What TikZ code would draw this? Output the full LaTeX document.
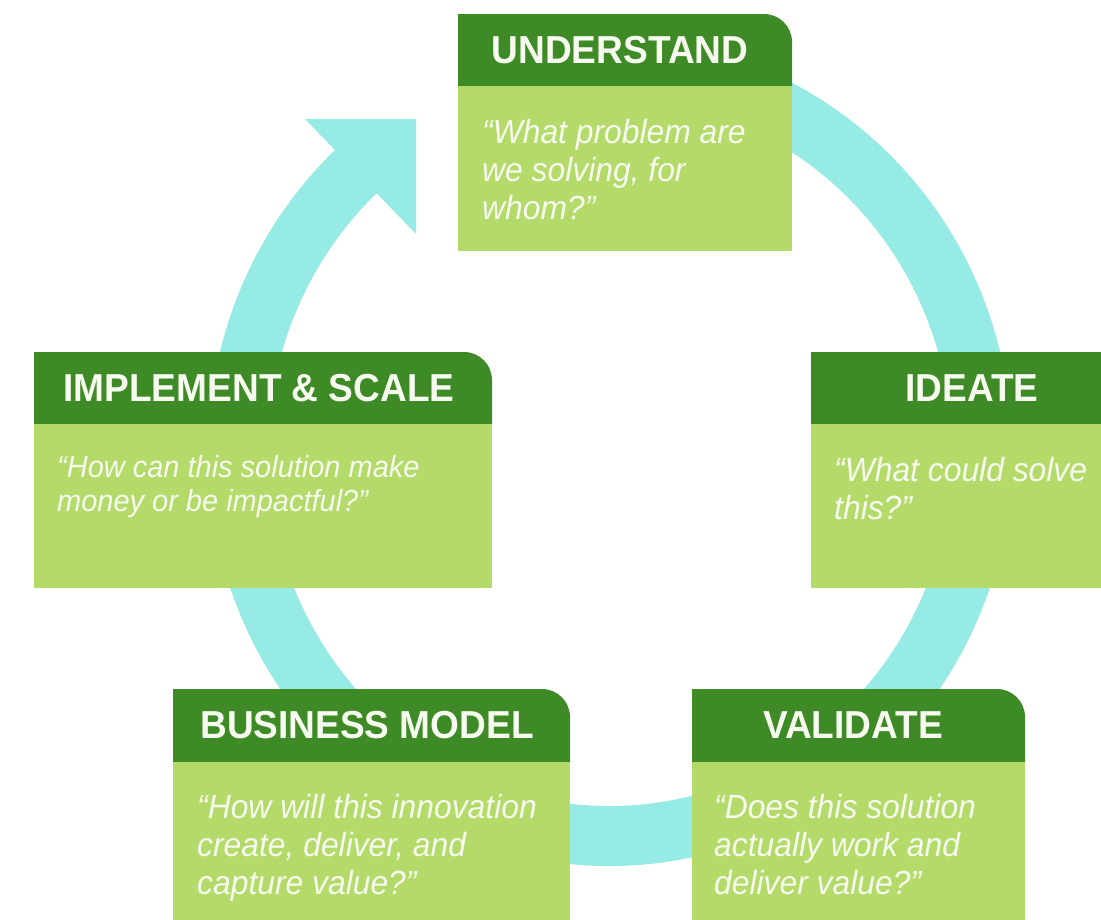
\documentclass[tikz,border=0pt]{standalone}
\usepackage{fontspec}
\setmainfont{Liberation Sans}[FakeStretch=0.95]
\usepackage{tikz}
\definecolor{headgreen}{HTML}{3E8A26}
\definecolor{bodygreen}{HTML}{B4DA6A}
\definecolor{ringcyan}{HTML}{97EBE5}
\definecolor{textwhite}{HTML}{F7FBEF}

\begin{document}
\begin{tikzpicture}[x=1pt,y=1pt,
  stagetitle/.style={text=textwhite,font=\fontsize{39}{44}\selectfont\bfseries,inner sep=0pt},
  stagequestion/.style={text=textwhite,font=\fontsize{33.5}{38}\selectfont\itshape,align=left,inner sep=0pt,anchor=north west},
  ring/.style={ringcyan,line width=60pt}]
% Frame
\useasboundingbox (0,0) rectangle (1101,-919);
\clip (0,0) rectangle (1101,-919);
\fill[white] (0,0) rectangle (1101,-919);

% Cycle
\draw[ring] (610,-452) ++(100:372 and 384) arc[start angle=100,end angle=-227.5,x radius=372,y radius=384];
\fill[ringcyan] (305,-119) -- (416,-119) -- (416,-234) -- cycle;

% Understand
\fill[headgreen] (458,-86) |- (764,-14) arc[start angle=90,end angle=0,radius=28] -- (792,-86) -- cycle;
\fill[bodygreen] (458,-86) rectangle (792,-251);
\node[stagetitle] (understand) at (620,-50) {UNDERSTAND};
\node[stagequestion] (understandq) at (482,-119) {“What problem are\\we solving, for\\whom?”};

% Ideate
\fill[headgreen] (811,-424) |- (1106,-352) arc[start angle=90,end angle=0,radius=28] -- (1134,-424) -- cycle;
\fill[bodygreen] (811,-424) rectangle (1134,-588);
\node[stagetitle] (ideate) at (972,-388) {IDEATE};
\node[stagequestion] (ideateq) at (834,-457) {“What could solve\\this?”};

% Validate
\fill[headgreen] (692,-762) |- (997,-689) arc[start angle=90,end angle=0,radius=28] -- (1025,-762) -- cycle;
\fill[bodygreen] (692,-762) rectangle (1025,-930);
\node[stagetitle] (validate) at (853,-725.5) {VALIDATE};
\node[stagequestion] (validateq) at (714,-794) {“Does this solution\\actually work and\\deliver value?”};

% Business model
\fill[headgreen] (173,-762) |- (542,-689) arc[start angle=90,end angle=0,radius=28] -- (570,-762) -- cycle;
\fill[bodygreen] (173,-762) rectangle (570,-930);
\node[stagetitle] (business) at (367,-725.5) {BUSINESS MODEL};
\node[stagequestion] (businessq) at (197,-794) {“How will this innovation\\create, deliver, and\\capture value?”};

% Implement and scale
\fill[headgreen] (34,-424) |- (464,-352) arc[start angle=90,end angle=0,radius=28] -- (492,-424) -- cycle;
\fill[bodygreen] (34,-424) rectangle (492,-588);
\node[stagetitle] (implement) at (259,-388) {IMPLEMENT \& SCALE};
\node[stagequestion,font=\fontsize{30.5}{34}\selectfont\itshape] (implementq) at (57,-455) {“How can this solution make\\money or be impactful?”};
\end{tikzpicture}
\end{document}
